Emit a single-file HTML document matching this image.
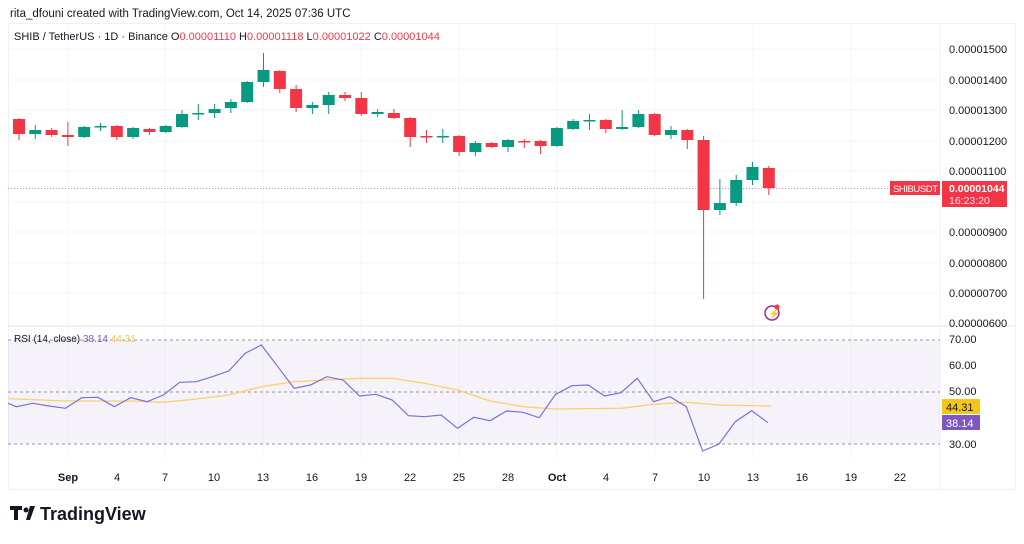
<!DOCTYPE html>
<html><head><meta charset="utf-8"><style>
body{margin:0;background:#fff;width:1024px;height:539px;overflow:hidden;font-family:"Liberation Sans",sans-serif}
</style></head><body>
<svg width="1024" height="539" xmlns="http://www.w3.org/2000/svg" font-family="Liberation Sans, sans-serif">
<defs><clipPath id="cp"><rect x="8" y="326" width="932" height="132"/></clipPath></defs>
<text x="10" y="17" font-size="11.5" fill="#131722">rita_dfouni created with TradingView.com, Oct 14, 2025 07:36 UTC</text>
<rect x="8.5" y="23.5" width="1007" height="466" fill="none" stroke="#f0f1f4"/>
<line x1="8" y1="326" x2="1015" y2="326" stroke="#e0e3eb"/>
<line x1="940" y1="23" x2="940" y2="490" stroke="#f0f2f5"/>
<g stroke="#f5f6f8">
<line x1="68" y1="24" x2="68" y2="458"/><line x1="165" y1="24" x2="165" y2="458"/><line x1="263" y1="24" x2="263" y2="458"/><line x1="361" y1="24" x2="361" y2="458"/><line x1="459" y1="24" x2="459" y2="458"/><line x1="557" y1="24" x2="557" y2="458"/><line x1="655" y1="24" x2="655" y2="458"/><line x1="753" y1="24" x2="753" y2="458"/><line x1="851" y1="24" x2="851" y2="458"/>
<line x1="8" y1="49" x2="940" y2="49"/><line x1="8" y1="80" x2="940" y2="80"/><line x1="8" y1="110" x2="940" y2="110"/><line x1="8" y1="141" x2="940" y2="141"/><line x1="8" y1="171" x2="940" y2="171"/><line x1="8" y1="202" x2="940" y2="202"/><line x1="8" y1="232" x2="940" y2="232"/><line x1="8" y1="263" x2="940" y2="263"/><line x1="8" y1="293" x2="940" y2="293"/>
</g>
<text x="14" y="40" font-size="11" fill="#131722">SHIB / TetherUS · 1D · Binance  O<tspan fill="#f23645">0.00001110</tspan>  H<tspan fill="#f23645">0.00001118</tspan>  L<tspan fill="#f23645">0.00001022</tspan>  C<tspan fill="#f23645">0.00001044</tspan></text>
<g font-size="11" fill="#131722">
<text x="949" y="53">0.00001500</text><text x="949" y="84">0.00001400</text><text x="949" y="114">0.00001300</text><text x="949" y="145">0.00001200</text><text x="949" y="175">0.00001100</text><text x="949" y="236">0.00000900</text><text x="949" y="267">0.00000800</text><text x="949" y="297">0.00000700</text><text x="949" y="327">0.00000600</text>
</g>
<line x1="8" y1="188.5" x2="940" y2="188.5" stroke="#f23645" stroke-dasharray="1,2" opacity="0.6"/>
<g id="c"></g>
<rect x="890" y="181" width="50" height="14" fill="#f23645"/>
<text x="893" y="192" font-size="9.5" fill="#fff" textLength="45">SHIBUSDT</text>
<rect x="942" y="181" width="65" height="26" fill="#f23645"/>
<text x="949" y="192" font-size="10.5" fill="#fff" font-weight="bold">0.00001044</text>
<text x="949" y="204" font-size="10.5" fill="#fde">16:23:20</text>
<circle cx="772" cy="313" r="7" fill="none" stroke="#9c27b0" stroke-width="1.5"/>
<text x="768" y="317" font-size="10" fill="#9c27b0">⚡</text>
<circle cx="777" cy="307" r="2.5" fill="#f23645"/>
<!-- RSI -->
<rect x="8" y="340" width="932" height="104" fill="#7e57c2" opacity="0.08"/>
<g stroke="#9598a1" stroke-dasharray="3,3"><line x1="8" y1="340" x2="940" y2="340"/><line x1="8" y1="392" x2="940" y2="392"/><line x1="8" y1="444" x2="940" y2="444"/></g>
<text x="14" y="342" font-size="10" fill="#131722">RSI (14, close) <tspan fill="#7e57c2">38.14</tspan> <tspan fill="#f7c548">44.31</tspan></text>
<g font-size="11" fill="#131722"><text x="949" y="343">70.00</text><text x="949" y="369">60.00</text><text x="949" y="395">50.00</text><text x="949" y="448">30.00</text></g>
<g clip-path="url(#cp)">
<polyline id="ma" fill="none" stroke="#f7d36b" stroke-width="1.3"/>
<polyline id="rsi" fill="none" stroke="#7e6fd6" stroke-width="1.2"/>
</g>
<rect x="942" y="399" width="38" height="15" fill="#f5c518"/><text x="946" y="411" font-size="11" fill="#131722">44.31</text>
<rect x="942" y="415" width="38" height="15" fill="#7e57c2"/><text x="946" y="427" font-size="11" fill="#fff">38.14</text>
<g font-size="11" fill="#131722" text-anchor="middle">
<text x="68" y="481" font-weight="bold">Sep</text><text x="117" y="481">4</text><text x="165" y="481">7</text><text x="214" y="481">10</text><text x="263" y="481">13</text><text x="312" y="481">16</text><text x="361" y="481">19</text><text x="410" y="481">22</text><text x="459" y="481">25</text><text x="508" y="481">28</text><text x="557" y="481" font-weight="bold">Oct</text><text x="606" y="481">4</text><text x="655" y="481">7</text><text x="704" y="481">10</text><text x="753" y="481">13</text><text x="802" y="481">16</text><text x="851" y="481">19</text><text x="900" y="481">22</text>
</g>
<g fill="#131722"><path d="M10 506h12v4h-4v10h-4v-10h-4z"/><circle cx="26" cy="510" r="2.5"/><path d="M30 506h5l-5 14h-4z"/></g>
<text x="40" y="520" font-size="18" font-weight="bold" fill="#131722">TradingView</text>
</svg>
<script>
const C=[[119,134,118,140,0],[130,134,125,139,1],[130,135,128,137,0],[135,137,122,146,0],[127,137,126,138,1],[126,127,123,131,1],[126,137,125,140,0],[128,137,127,139,1],[129,132,128,135,0],[126,132,125,133,1],[114,127,110,128,1],[113,114,104,120,1],[109,113,104,118,1],[102,108,99,113,1],[82,102,81,103,1],[70,82,53,87,1],[71,89,70,93,0],[89,108,85,112,0],[105,108,102,114,1],[95,105,92,114,1],[95,98,92,101,0],[98,114,92,116,0],[112,114,109,117,1],[113,118,109,119,0],[118,137,117,147,0],[136,137,130,143,0],[136,137,129,143,1],[136,152,135,156,0],[143,152,141,156,1],[143,147,142,148,0],[140,147,139,152,1],[141,142,139,148,0],[141,146,140,154,0],[128,146,127,147,1],[121,129,119,130,1],[120,121,114,130,1],[120,129,119,133,0],[127,129,110,130,1],[114,127,110,128,1],[114,135,113,136,0],[130,135,126,139,1],[130,140,129,149,0],[140,210,136,299,0],[203,210,179,215,1],[180,203,175,206,1],[167,180,162,185,1],[168,188,166,195,0]];
let s='';C.forEach((c,i)=>{const x=19+i*16.3,col=c[4]?'#089981':'#f23645';s+=`<line x1="${x}" y1="${c[2]}" x2="${x}" y2="${c[3]}" stroke="${col}"/><rect x="${x-6}" y="${c[0]}" width="12" height="${Math.max(1.5,c[1]-c[0])}" fill="${col}"/>`});
document.getElementById('c').innerHTML=s;
const R=[225,245,235,243,250,218,217,245,218,230,210,172,170,155,138,85,60,125,190,180,155,165,213,208,225,272,275,270,310,277,287,258,262,278,208,182,180,213,203,160,230,215,245,378,357,290,257,293];
document.getElementById('rsi').setAttribute('points',R.map((v,i)=>`${(i*16.34).toFixed(1)},${(325+v/3).toFixed(1)}`).join(' '));
const M=[[0,220],[100,228],[200,228],[250,232],[300,222],[350,210],[400,185],[450,170],[500,165],[550,160],[600,160],[650,175],[700,195],[750,228],[800,245],[850,252],[950,250],[1000,238],[1050,232],[1100,240],[1180,243]];
document.getElementById('ma').setAttribute('points',M.map(p=>`${(p[0]/1.53).toFixed(1)},${(325+p[1]/3).toFixed(1)}`).join(' '));
</script>
</body></html>
